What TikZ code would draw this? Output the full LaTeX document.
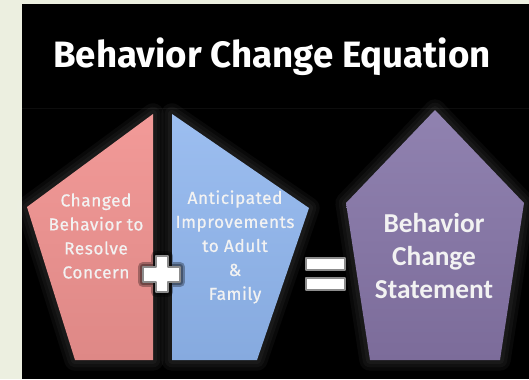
\documentclass[tikz,border=0pt]{standalone}
\usepackage{fontspec}
\setmainfont{Fira Sans}
\newfontfamily\labelfont[LetterSpace=3, FakeBold=0.6]{Fira Sans}
\newfontfamily\stmtfont{Carlito}
\usepackage{xcolor}
\definecolor{paper}{HTML}{ECEFE0}
\definecolor{redtop}{HTML}{F29A98}
\definecolor{redbot}{HTML}{DE8886}
\definecolor{bluetop}{HTML}{9CBEF0}
\definecolor{bluebot}{HTML}{86AADF}
\definecolor{purptop}{HTML}{9082B0}
\definecolor{purpbot}{HTML}{7C6C9A}
\definecolor{ink}{HTML}{F2F2F2}

\begin{document}
\begin{tikzpicture}[
		x=0.75pt, y=-0.75pt,
		line join=round,
		halo/.style={draw=white, line width=#1, opacity=0.035},
		redpiece/.style={top color=redtop, bottom color=redbot, draw=none},
		bluepiece/.style={top color=bluetop, bottom color=bluebot, draw=none},
		purppiece/.style={top color=purptop, bottom color=purpbot, draw=none},
		label/.style={text=ink, align=center, font=\labelfont\fontsize{13}{18}\selectfont},
		stmt/.style={text=ink, align=center, font=\stmtfont\bfseries\fontsize{20.5}{25}\selectfont},
		sign/.style={fill=white, draw=black!45, line width=0.8pt},
		sign shadow/.style={draw=black, line width=#1, opacity=0.3}
		]

	% Background and panels
	\useasboundingbox (0, 0) rectangle (529, 379);
	\fill[paper] (0, 0) rectangle (529, 379);
	\fill[black] (22, 4) rectangle (529, 379);
	\draw[black!95!white, line width=0.6pt] (22, 108) -- (529, 108);

	% Title
	\node[text=white, font=\bfseries\fontsize{27.5}{32}\selectfont] (title) at (272, 57) {Behavior Change Equation};

	% Glow round the pieces
	\foreach \w in {16, 11, 6}{
		\draw[halo=\w] (27, 207) -- (153, 114) -- (153, 360) -- (75, 360) -- cycle;
		\draw[halo=\w] (172, 114) -- (309, 208) -- (257, 360) -- (172, 360) -- cycle;
		\draw[halo=\w] (435, 110) -- (524, 203) -- (500, 360) -- (370, 360) -- (346, 203) -- cycle;
	}

	% Pieces
	\path[redpiece] (27, 207) -- (153, 114) -- (153, 360) -- (75, 360) -- cycle;
	\path[bluepiece] (172, 114) -- (309, 208) -- (257, 360) -- (172, 360) -- cycle;
	\path[purppiece] (435, 110) -- (524, 203) -- (500, 360) -- (370, 360) -- (346, 203) -- cycle;

	% Texts
	\node[label] (concern) at (96, 236) {Changed\\Behavior to\\Resolve\\Concern};
	\node[label] (improve) at (235, 247) {Anticipated\\Improvements\\to Adult\\\&\\Family};
	\node[stmt] (statement) at (434, 256) {Behavior\\Change\\Statement};

	% Plus sign
	\foreach \w in {8, 5}{
		\draw[sign shadow=\w] (143, 267) -- (156, 267) -- (156, 256) -- (168, 256) -- (168, 267) -- (180, 267)
			-- (180, 282) -- (168, 282) -- (168, 292) -- (156, 292) -- (156, 282) -- (143, 282) -- cycle;
	}
	\draw[sign] (143, 267) -- (156, 267) -- (156, 256) -- (168, 256) -- (168, 267) -- (180, 267)
		-- (180, 282) -- (168, 282) -- (168, 292) -- (156, 292) -- (156, 282) -- (143, 282) -- cycle;

	% Equals sign
	\draw[sign] (306, 258) rectangle (345, 270);
	\draw[sign] (306, 278) rectangle (345, 290);

\end{tikzpicture}
\end{document}
